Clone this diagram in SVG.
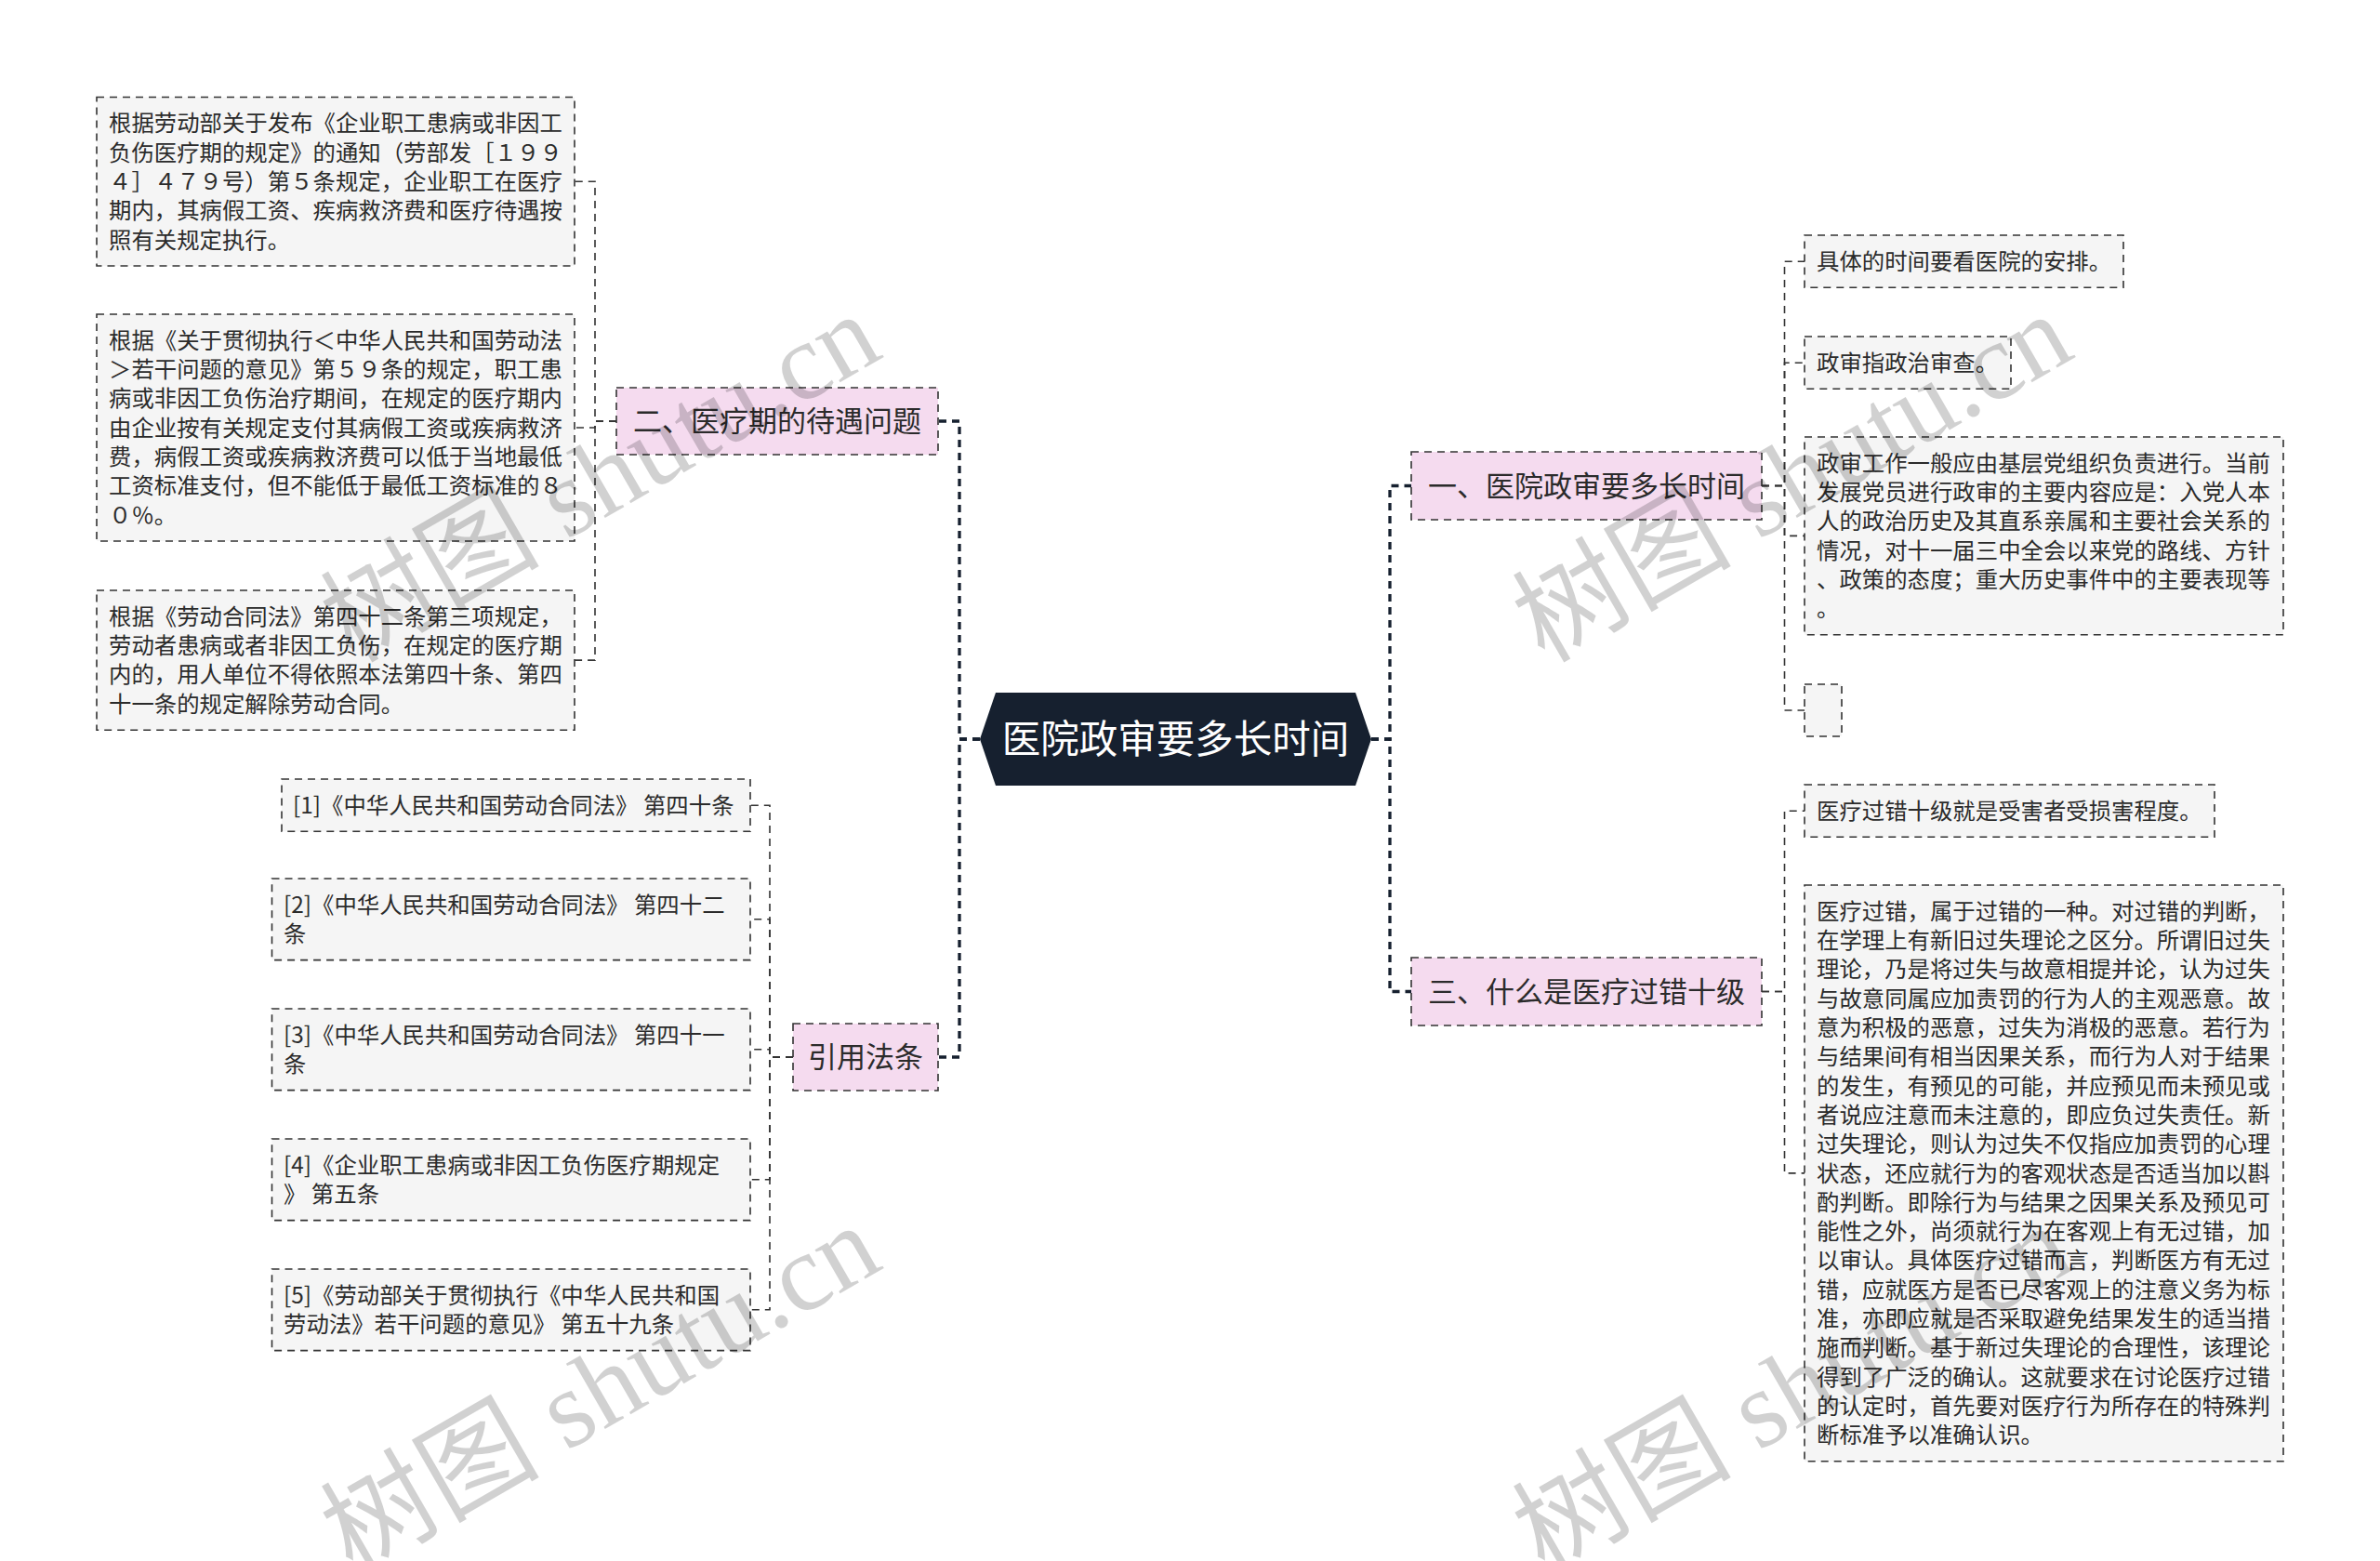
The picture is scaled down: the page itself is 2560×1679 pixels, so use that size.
<svg xmlns="http://www.w3.org/2000/svg" width="2560" height="1679" viewBox="0 0 2560 1679">
<style>
.leaf{fill:#f5f5f5;stroke:#333;stroke-width:1.6;stroke-dasharray:8 6}
.br{fill:#f5dbef;stroke:#333;stroke-width:1.6;stroke-dasharray:8 6}
.t{font-family:"Noto Sans CJK SC",sans-serif;font-size:24.4px;fill:#2b2b2b}
.bt{font-family:"Noto Sans CJK SC",sans-serif;font-size:31px;fill:#2b2b2b;text-anchor:middle}
.ct{font-family:"Noto Sans CJK SC",sans-serif;font-size:41.5px;fill:#fff;text-anchor:middle}
.c1{fill:none;stroke:#16202f;stroke-width:3.3;stroke-dasharray:8 6}
.c2{fill:none;stroke:#333;stroke-width:1.6;stroke-dasharray:8 6}
.wm{font-family:"Liberation Serif","Noto Sans CJK SC",serif;font-size:118px;fill:#000;fill-opacity:0.18}
</style>
<rect width="2560" height="1679" fill="#fff"/>
<g id="connectors">
<path class="c1" d="M1054,795 H1032 V453 H1009"/>
<path class="c1" d="M1054,795 H1032 V1137 H1009"/>
<path class="c1" d="M1475,795 H1495 V522.5 H1518"/>
<path class="c1" d="M1475,795 H1495 V1066.5 H1518"/>
<path class="c2" d="M663,453 H640 V195.25 H618"/>
<path class="c2" d="M663,453 H640 V460 H618"/>
<path class="c2" d="M663,453 H640 V710.1 H618"/>
<path class="c2" d="M853,1137 H828 V866.2 H807"/>
<path class="c2" d="M853,1137 H828 V988.8 H807"/>
<path class="c2" d="M853,1137 H828 V1128.8 H807"/>
<path class="c2" d="M853,1137 H828 V1268.8 H807"/>
<path class="c2" d="M853,1137 H828 V1408.8 H807"/>
<path class="c2" d="M1895,522.5 H1919.5 V281.2 H1941"/>
<path class="c2" d="M1895,522.5 H1919.5 V390.2 H1941"/>
<path class="c2" d="M1895,522.5 H1919.5 V576.4 H1941"/>
<path class="c2" d="M1895,522.5 H1919.5 V764 H1941"/>
<path class="c2" d="M1895,1066.5 H1919.5 V872.2 H1941"/>
<path class="c2" d="M1895,1066.5 H1919.5 V1261.9 H1941"/>
</g>
<g id="root">
<polygon points="1054,795 1071,745 1458,745 1475,795 1458,845 1071,845" fill="#16202f"/>
<text class="ct" x="1264.5" y="810">医院政审要多长时间</text>
</g>
<g id="b2">
<rect class="br" x="663" y="417" width="346" height="72"/>
<text class="bt" x="836" y="464.2">二、医疗期的待遇问题</text>
</g>
<g id="b4">
<rect class="br" x="853" y="1101" width="156" height="72"/>
<text class="bt" x="931" y="1148.2">引用法条</text>
</g>
<g id="b1">
<rect class="br" x="1518" y="486" width="377" height="73"/>
<text class="bt" x="1706.5" y="533.7">一、医院政审要多长时间</text>
</g>
<g id="b3">
<rect class="br" x="1518" y="1030" width="377" height="73"/>
<text class="bt" x="1706.5" y="1077.7">三、什么是医疗过错十级</text>
</g>
<g id="c1">
<rect class="leaf" x="104" y="104.5" width="514" height="181.5"/>
<text class="t" x="117" y="141.3"><tspan x="117">根据劳动部关于发布《企业职工患病或非因工</tspan><tspan x="117" dy="31.3">负伤医疗期的规定》的通知（劳部发［１９９</tspan><tspan x="117" dy="31.3">４］４７９号）第５条规定，企业职工在医疗</tspan><tspan x="117" dy="31.3">期内，其病假工资、疾病救济费和医疗待遇按</tspan><tspan x="117" dy="31.3">照有关规定执行。</tspan></text>
</g>
<g id="c2">
<rect class="leaf" x="104" y="338" width="514" height="244"/>
<text class="t" x="117" y="374.8"><tspan x="117">根据《关于贯彻执行＜中华人民共和国劳动法</tspan><tspan x="117" dy="31.3">＞若干问题的意见》第５９条的规定，职工患</tspan><tspan x="117" dy="31.3">病或非因工负伤治疗期间，在规定的医疗期内</tspan><tspan x="117" dy="31.3">由企业按有关规定支付其病假工资或疾病救济</tspan><tspan x="117" dy="31.3">费，病假工资或疾病救济费可以低于当地最低</tspan><tspan x="117" dy="31.3">工资标准支付，但不能低于最低工资标准的８</tspan><tspan x="117" dy="31.3">０％。</tspan></text>
</g>
<g id="c3">
<rect class="leaf" x="104" y="635" width="514" height="150.2"/>
<text class="t" x="117" y="671.8"><tspan x="117">根据《劳动合同法》第四十二条第三项规定，</tspan><tspan x="117" dy="31.3">劳动者患病或者非因工负伤，在规定的医疗期</tspan><tspan x="117" dy="31.3">内的，用人单位不得依照本法第四十条、第四</tspan><tspan x="117" dy="31.3">十一条的规定解除劳动合同。</tspan></text>
</g>
<g id="d1">
<rect class="leaf" x="303" y="838" width="504" height="56.3"/>
<text class="t" x="315" y="874.8">[1]《中华人民共和国劳动合同法》 第四十条</text>
</g>
<g id="d2">
<rect class="leaf" x="292.5" y="945" width="514.5" height="87.6"/>
<text class="t" x="305" y="981.8"><tspan x="305">[2]《中华人民共和国劳动合同法》 第四十二</tspan><tspan x="305" dy="31.3">条</tspan></text>
</g>
<g id="d3">
<rect class="leaf" x="292.5" y="1085" width="514.5" height="87.6"/>
<text class="t" x="305" y="1121.8"><tspan x="305">[3]《中华人民共和国劳动合同法》 第四十一</tspan><tspan x="305" dy="31.3">条</tspan></text>
</g>
<g id="d4">
<rect class="leaf" x="292.5" y="1225" width="514.5" height="87.6"/>
<text class="t" x="305" y="1261.8"><tspan x="305">[4]《企业职工患病或非因工负伤医疗期规定</tspan><tspan x="305" dy="31.3">》 第五条</tspan></text>
</g>
<g id="d5">
<rect class="leaf" x="292.5" y="1365" width="514.5" height="87.6"/>
<text class="t" x="305" y="1401.8"><tspan x="305">[5]《劳动部关于贯彻执行《中华人民共和国</tspan><tspan x="305" dy="31.3">劳动法》若干问题的意见》 第五十九条</tspan></text>
</g>
<g id="a1">
<rect class="leaf" x="1941" y="253" width="343" height="56.3"/>
<text class="t" x="1954" y="289.8">具体的时间要看医院的安排。</text>
</g>
<g id="a2">
<rect class="leaf" x="1941" y="362" width="222" height="56.3"/>
<text class="t" x="1954" y="398.8">政审指政治审查。</text>
</g>
<g id="a3">
<rect class="leaf" x="1941" y="470" width="515" height="212.8"/>
<text class="t" x="1954" y="506.8"><tspan x="1954">政审工作一般应由基层党组织负责进行。当前</tspan><tspan x="1954" dy="31.3">发展党员进行政审的主要内容应是：入党人本</tspan><tspan x="1954" dy="31.3">人的政治历史及其直系亲属和主要社会关系的</tspan><tspan x="1954" dy="31.3">情况，对十一届三中全会以来党的路线、方针</tspan><tspan x="1954" dy="31.3">、政策的态度；重大历史事件中的主要表现等</tspan><tspan x="1954" dy="31.3">。</tspan></text>
</g>
<g id="a4">
<rect class="leaf" x="1941" y="736" width="40" height="56"/>
</g>
<g id="e1">
<rect class="leaf" x="1941" y="844" width="441" height="56.3"/>
<text class="t" x="1954" y="880.8">医疗过错十级就是受害者受损害程度。</text>
</g>
<g id="e2">
<rect class="leaf" x="1941" y="952" width="515" height="619.7"/>
<text class="t" x="1954" y="988.8"><tspan x="1954">医疗过错，属于过错的一种。对过错的判断，</tspan><tspan x="1954" dy="31.3">在学理上有新旧过失理论之区分。所谓旧过失</tspan><tspan x="1954" dy="31.3">理论，乃是将过失与故意相提并论，认为过失</tspan><tspan x="1954" dy="31.3">与故意同属应加责罚的行为人的主观恶意。故</tspan><tspan x="1954" dy="31.3">意为积极的恶意，过失为消极的恶意。若行为</tspan><tspan x="1954" dy="31.3">与结果间有相当因果关系，而行为人对于结果</tspan><tspan x="1954" dy="31.3">的发生，有预见的可能，并应预见而未预见或</tspan><tspan x="1954" dy="31.3">者说应注意而未注意的，即应负过失责任。新</tspan><tspan x="1954" dy="31.3">过失理论，则认为过失不仅指应加责罚的心理</tspan><tspan x="1954" dy="31.3">状态，还应就行为的客观状态是否适当加以斟</tspan><tspan x="1954" dy="31.3">酌判断。即除行为与结果之因果关系及预见可</tspan><tspan x="1954" dy="31.3">能性之外，尚须就行为在客观上有无过错，加</tspan><tspan x="1954" dy="31.3">以审认。具体医疗过错而言，判断医方有无过</tspan><tspan x="1954" dy="31.3">错，应就医方是否已尽客观上的注意义务为标</tspan><tspan x="1954" dy="31.3">准，亦即应就是否采取避免结果发生的适当措</tspan><tspan x="1954" dy="31.3">施而判断。基于新过失理论的合理性，该理论</tspan><tspan x="1954" dy="31.3">得到了广泛的确认。这就要求在讨论医疗过错</tspan><tspan x="1954" dy="31.3">的认定时，首先要对医疗行为所存在的特殊判</tspan><tspan x="1954" dy="31.3">断标准予以准确认识。</tspan></text>
</g>
<g id="watermarks">
<text class="wm" x="379" y="714" transform="rotate(-30 379 714)">树图 shutu.cn</text>
<text class="wm" x="1661" y="714" transform="rotate(-30 1661 714)">树图 shutu.cn</text>
<text class="wm" x="379" y="1694" transform="rotate(-30 379 1694)">树图 shutu.cn</text>
<text class="wm" x="1661" y="1694" transform="rotate(-30 1661 1694)">树图 shutu.cn</text>
</g>
</svg>
